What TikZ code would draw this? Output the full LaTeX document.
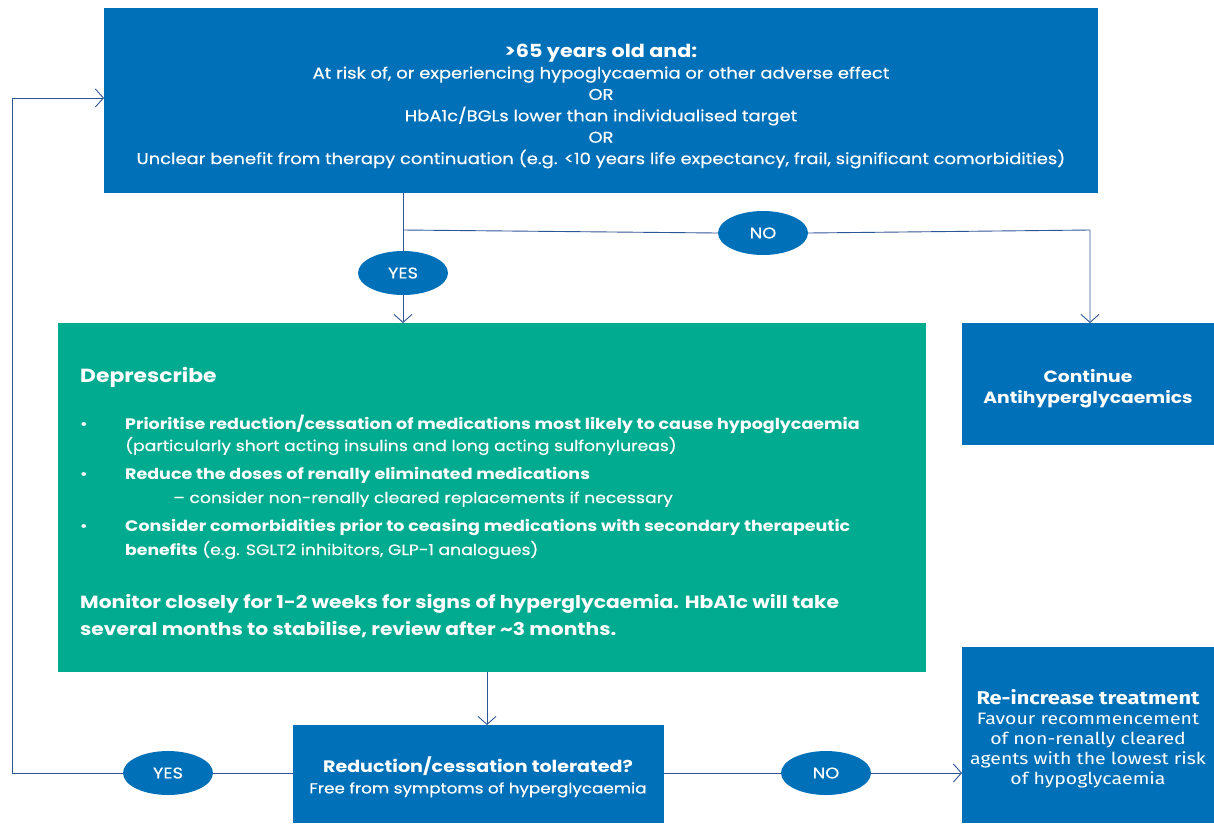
\documentclass[tikz,border=0pt]{standalone}
\usepackage{fontspec}
\setmainfont{Poppins}[FakeStretch=1.15, UprightFeatures={FakeBold=0.35}]
\newfontfamily\narrowfont{Fira Sans}[FakeStretch=1.18]
\usetikzlibrary{arrows.meta,shapes.geometric}
\definecolor{boxblue}{HTML}{0070B8}
\definecolor{boxgreen}{HTML}{00AB8F}
\definecolor{linkblue}{HTML}{2F5597}
\tikzset{
  bluebox/.style={draw=none, fill=boxblue, text=white, inner sep=0pt, anchor=north west},
  greenbox/.style={draw=none, fill=boxgreen, inner sep=0pt, anchor=north west},
  answer/.style={ellipse, fill=boxblue, text=white, inner sep=0pt,
    minimum width=90pt, minimum height=44pt, font=\fontsize{15.5}{16}\selectfont},
  conn/.style={draw=linkblue, line width=0.9pt},
  arr/.style={conn, -{Straight Barb[length=8pt,width=18pt,line width=0.9pt]}},
  wtxt/.style={text=white, inner sep=0pt},
  body/.style={wtxt, anchor=base west, font=\fontsize{15}{18}\selectfont},
  bodyb/.style={wtxt, anchor=base west, font=\fontsize{15.2}{18}\selectfont\bfseries},
}
\begin{document}
\begin{tikzpicture}[x=1pt,y=-1pt]
\useasboundingbox (0,0) rectangle (1214,823);

% boxes
\node[bluebox, minimum width=994pt, minimum height=185pt] (cond) at (104,8) {};
\node[greenbox, minimum width=868pt, minimum height=349pt] (dep) at (58,323) {};
\node[bluebox, minimum width=252pt, minimum height=122pt] (cont) at (962,323) {};
\node[bluebox, minimum width=371pt, minimum height=98pt] (tol) at (293,725) {};
\node[bluebox, minimum width=252pt, minimum height=176pt] (reinc) at (962,647) {};

% condition text
\node[wtxt, align=center, font=\fontsize{15.6}{21.4}\selectfont] (condtxt) at (601,106)
  {{\fontsize{18}{21.4}\selectfont\bfseries >65 years old and:}\\
   At risk of, or experiencing hypoglycaemia or other adverse effect\\
   OR\\
   HbA1c/BGLs lower than individualised target\\
   OR\\
   Unclear benefit from therapy continuation (e.g. <10 years life expectancy, frail, significant comorbidities)};

% deprescribe text
\node[wtxt, anchor=base west, font=\fontsize{19}{22}\selectfont\bfseries] (deph) at (80,382) {Deprescribe};
\node[body] (d1) at (80,429) {\textbullet};
\node[bodyb] (t1a) at (125,429) {Prioritise reduction/cessation of medications most likely to cause hypoglycaemia};
\node[body] (t1b) at (125,451) {(particularly short acting insulins and long acting sulfonylureas)};
\node[body] (d2) at (80,479) {\textbullet};
\node[bodyb] (t2a) at (125,479) {Reduce the doses of renally eliminated medications};
\node[body] (t2b) at (173,503) {– consider non-renally cleared replacements if necessary};
\node[body] (d3) at (80,531) {\textbullet};
\node[bodyb] (t3a) at (125,531) {Consider comorbidities prior to ceasing medications with secondary therapeutic};
\node[body] (t3b) at (125,555) {\textbf{benefits} (e.g. SGLT2 inhibitors, GLP-1 analogues)};
\node[wtxt, anchor=base west, font=\fontsize{17.6}{22}\selectfont\bfseries] (mon1) at (80,608)
  {Monitor closely for 1-2 weeks for signs of hyperglycaemia. HbA1c will take};
\node[wtxt, anchor=base west, font=\fontsize{17.6}{22}\selectfont\bfseries] (mon2) at (80,635)
  {several months to stabilise, review after \textasciitilde3 months.};

% outcome texts
\node[wtxt, align=center, font=\fontsize{16.3}{21}\selectfont\bfseries] (conttxt) at (1088,389) {Continue\\Antihyperglycaemics};
\node[wtxt, align=center, font=\fontsize{14.6}{21}\selectfont] (toltxt) at (478,777)
  {{\fontsize{16.6}{21}\selectfont\bfseries Reduction/cessation tolerated?}\\Free from symptoms of hyperglycaemia};
\node[wtxt, align=center, font=\narrowfont\fontsize{16.5}{20}\selectfont] (reinctxt) at (1088,739)
  {{\fontsize{18.5}{20}\selectfont\bfseries Re-increase treatment}\\Favour recommencement\\of non-renally cleared\\agents with the lowest risk\\of hypoglycaemia};

% answers
\node[answer] (yes1) at (403,273) {YES};
\node[answer] (no1) at (763,233) {NO};
\node[answer] (yes2) at (168,773) {YES};
\node[answer] (no2) at (826,773) {NO};

% connectors
\coordinate (split) at (403,230);
\coordinate (turnA) at (1090,230);
\coordinate (loopB) at (12,773);
\coordinate (loopT) at (12,98);
\draw[conn] (yes1.north |- cond.south) -- (yes1.north);
\draw[arr] (yes1.south) -- (yes1.south |- dep.north);
\draw[conn] (split) -- (no1.west);
\draw[arr] (no1.east) -- (turnA) -- (turnA |- cont.north);
\draw[arr] (487,672) coordinate (depout) -- (depout |- tol.north);
\draw[conn] (tol.west |- yes2) -- (yes2.east);
\draw[arr] (yes2.west) -- (loopB) -- (loopT) -- (loopT -| cond.west);
\draw[conn] (tol.east |- no2) -- (no2.west);
\draw[arr] (no2.east) -- (no2 -| reinc.west);
\end{tikzpicture}
\end{document}
